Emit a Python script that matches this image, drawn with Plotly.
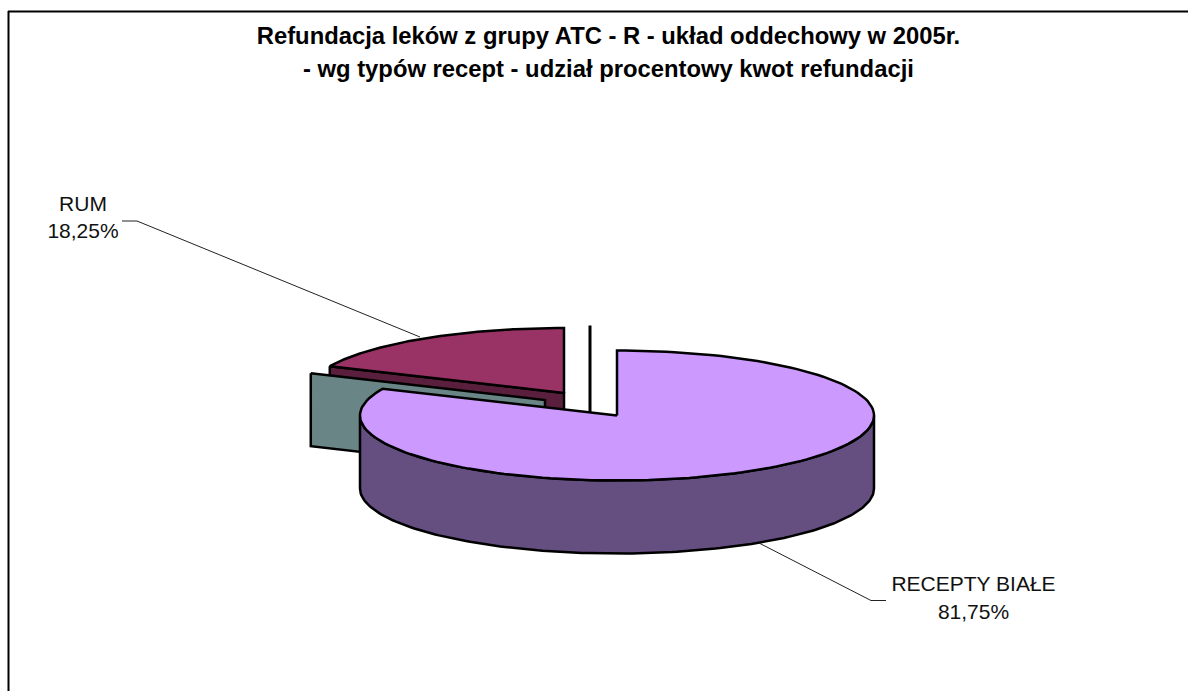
import math
import plotly.graph_objects as go

# Data
CATEGORIES = ["RECEPTY BIAŁE", "RUM", ""]
VALUES = [81.75, 18.25, 0.0]
TITLE_LINES = ["Refundacja leków z grupy ATC - R - układ oddechowy w 2005r.",
               "- wg typów recept - udział procentowy kwot refundacji"]

# Scene geometry of the tilted pie (axis units = pixels)
W, H = 1188, 691
CX, CY, RX, RY = 617, 415.5, 257, 65
DEPTH = 73
EXPLODE = {"RECEPTY BIAŁE": (0, 0), "RUM": (-53, -22.5), "": (-27, -25)}
CUT_FACE_OFFSET = (-72, -15.5)

TOP = {"RECEPTY BIAŁE": "#CC99FF", "RUM": "#993366"}
SIDE = {"RECEPTY BIAŁE": "#654E80", "RUM": "#5A1F3C"}
CUT_FACE = "#6A8585"
BLACK = "#000000"
FONT = "Liberation Sans"


def pt(cx, cy, deg, dy=0.0):
    a = math.radians(deg)
    return cx + RX * math.sin(a), cy - RY * math.cos(a) + dy


def arc(cx, cy, a0, a1, dy=0.0, n=160):
    return [pt(cx, cy, a0 + (a1 - a0) * i / n, dy) for i in range(n + 1)]


def poly(points, fill, width=2.5, name=""):
    xs = [p[0] for p in points] + [points[0][0]]
    ys = [p[1] for p in points] + [points[0][1]]
    return go.Scatter(x=xs, y=ys, mode="lines", fill="toself", fillcolor=fill,
                      line=dict(color=BLACK, width=width, shape="linear"),
                      hoverinfo="skip", showlegend=False, name=name)


total = sum(VALUES)
ends, run = [], 0.0
for v in VALUES:
    start = run
    run += v / total * 360
    ends.append((start, run))
start_white, end_white = ends[0]
start_rum, end_rum = ends[1]

fig = go.Figure()

# RUM: cut wall, then the extra cut face, then its top
rx0, ry0 = CX + EXPLODE["RUM"][0], CY + EXPLODE["RUM"][1]
edge = pt(rx0, ry0, start_rum)
low = pt(rx0, ry0, start_rum, DEPTH)
fig.add_trace(poly([edge, (rx0, ry0), (rx0, ry0 + DEPTH), low], SIDE["RUM"]))

fx, fy = CX + CUT_FACE_OFFSET[0], CY + CUT_FACE_OFFSET[1]
f0 = pt(fx, fy, end_white)
f1 = pt(fx, fy, end_white, DEPTH)
fig.add_trace(poly([f0, (fx, fy), (fx, fy + DEPTH), f1], CUT_FACE))

fig.add_trace(poly([(rx0, ry0)] + arc(rx0, ry0, start_rum, end_rum), TOP["RUM"]))

# Zero-value slice: only its radius shows, as a line
zx, zy = CX + EXPLODE[""][0], CY + EXPLODE[""][1]
zero = pt(zx, zy, ends[2][0] - 360)
fig.add_trace(go.Scatter(x=[zero[0], zx, zx], y=[zero[1], zy, zy + DEPTH], mode="lines",
                         line=dict(color=BLACK, width=3), hoverinfo="skip", showlegend=False))

# RECEPTY BIAŁE: outer wall, then top
upper = arc(CX, CY, 90, 270)
lower = arc(CX, CY, 270, 90, DEPTH)
fig.add_trace(poly(upper + lower, SIDE["RECEPTY BIAŁE"]))
fig.add_trace(poly([(CX, CY)] + arc(CX, CY, start_white, end_white), TOP["RECEPTY BIAŁE"]))

# Leader lines
LEADERS = [
    ([122, 137, 420], [221, 221, 337]),
    ([759, 871, 886], [543, 600.5, 600.5]),
]
for xs, ys in LEADERS:
    fig.add_trace(go.Scatter(x=xs, y=ys, mode="lines", line=dict(color="#222222", width=1),
                             hoverinfo="skip", showlegend=False))

# Data labels
fmt = [f"{v:.2f}".replace(".", ",") + "%" for v in VALUES]
LABEL_POS = {"RECEPTY BIAŁE": (973.5, 586, 613.5), "RUM": (83, 205.5, 233)}
for cat, pct in zip(CATEGORIES, fmt):
    if cat in LABEL_POS:
        x, y1, y2 = LABEL_POS[cat]
        fig.add_trace(go.Scatter(x=[x, x], y=[y1, y2], mode="text", text=[cat, pct],
                                 textposition="middle center",
                                 textfont=dict(family=FONT, size=21, color="#111111"),
                                 hoverinfo="skip", showlegend=False))

fig.update_layout(
    width=W, height=H, margin=dict(l=0, r=0, t=0, b=0),
    paper_bgcolor="white", plot_bgcolor="white", showlegend=False,
    title=dict(text=f"<b>{TITLE_LINES[0]}</b>", x=608.5 / W, xanchor="center",
               y=1 - 36 / H, yanchor="middle", yref="container",
               font=dict(family=FONT, size=23.8, color=BLACK)),
    xaxis=dict(range=[0, W], visible=False, fixedrange=True),
    yaxis=dict(range=[H, 0], visible=False, fixedrange=True),
    annotations=[dict(text=f"<b>{TITLE_LINES[1]}</b>", xref="x", yref="y", x=608.5, y=68,
                      showarrow=False, xanchor="center", yanchor="middle",
                      font=dict(family=FONT, size=23.8, color=BLACK))],
    shapes=[
        dict(type="line", xref="x", yref="y", x0=8.5, x1=8.5, y0=11, y1=H + 5,
             line=dict(color=BLACK, width=2)),
        dict(type="line", xref="x", yref="y", x0=8, x1=W + 5, y0=11.5, y1=11.5,
             line=dict(color=BLACK, width=2)),
    ],
)
fig.write_html("out.html", config={"displayModeBar": False},
               post_script="document.body.style.margin='0';")
